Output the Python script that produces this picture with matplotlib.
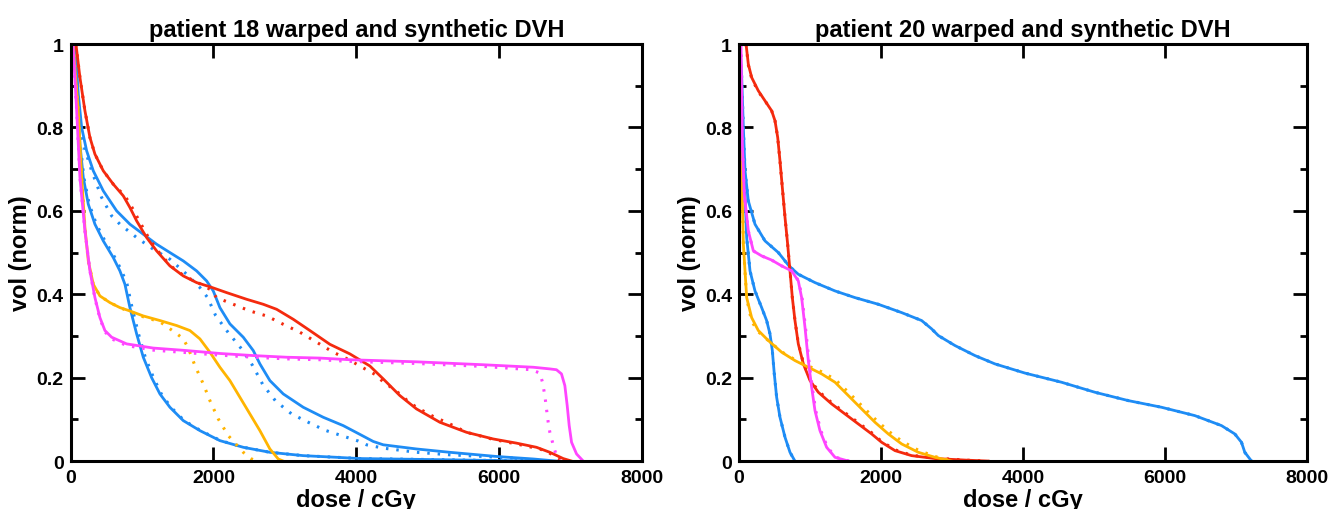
"""
Warped vs synthetic DVH curves for patients 18 and 20.
Solid = warped DVH, dotted = synthetic DVH.
"""

import matplotlib
matplotlib.use("Agg")
import matplotlib.pyplot as plt
from matplotlib.ticker import FixedLocator

plt.rcParams["font.family"] = ["Liberation Sans", "DejaVu Sans"]
plt.rcParams["font.weight"] = "bold"

RED = "#f42a0e"
BLUE = "#1e8cf5"
ORANGE = "#ffb400"
MAGENTA = "#ff45ff"

# ---- patient 18 (dose in cGy, normalised volume) ----
p18_red_x = [74, 130, 200, 270, 340, 457, 597, 737, 830, 924, 1064, 1204, 1390, 1577, 1764, 1950, 2184, 2464, 2697, 2884, 3117, 3350, 3630, 3910, 4190, 4377, 4610, 4843, 5170, 5543, 5917, 6243, 6523, 6710, 6897, 7014]
p18_red_y = [1.0, 0.92, 0.84, 0.776, 0.736, 0.696, 0.664, 0.636, 0.608, 0.576, 0.536, 0.504, 0.468, 0.444, 0.428, 0.418, 0.404, 0.388, 0.376, 0.364, 0.34, 0.313, 0.28, 0.257, 0.228, 0.197, 0.157, 0.125, 0.093, 0.069, 0.053, 0.043, 0.033, 0.021, 0.006, 0.0]
p18_red_syn_x = [74, 130, 200, 270, 340, 457, 597, 760, 860, 960, 1090, 1220, 1400, 1590, 1780, 1950, 2044, 2277, 2510, 2744, 2977, 3210, 3444, 3677, 3910, 4027, 4260, 4377, 4493, 4610, 4727, 4843, 5077, 5310, 5543, 5917, 6243, 6570, 6687, 6803, 6897]
p18_red_syn_y = [1.0, 0.92, 0.84, 0.776, 0.736, 0.696, 0.664, 0.636, 0.608, 0.576, 0.536, 0.504, 0.468, 0.444, 0.428, 0.412, 0.392, 0.376, 0.36, 0.348, 0.328, 0.309, 0.285, 0.261, 0.242, 0.23, 0.208, 0.19, 0.176, 0.161, 0.143, 0.129, 0.107, 0.089, 0.069, 0.052, 0.041, 0.029, 0.021, 0.009, 0.0]

p18_blue1_x = [60, 107, 154, 224, 317, 457, 644, 830, 1017, 1204, 1390, 1577, 1764, 1904, 1997, 2090, 2230, 2417, 2557, 2650, 2790, 2977, 3257, 3537, 3817, 4050, 4237, 4377, 4843, 5310, 5963, 6477, 6803]
p18_blue1_y = [1.0, 0.88, 0.8, 0.744, 0.696, 0.648, 0.6, 0.568, 0.544, 0.52, 0.5, 0.48, 0.456, 0.432, 0.408, 0.368, 0.329, 0.297, 0.265, 0.233, 0.193, 0.161, 0.129, 0.105, 0.085, 0.064, 0.047, 0.039, 0.029, 0.021, 0.011, 0.005, 0.0]
p18_blue1_syn_x = [60, 107, 177, 294, 434, 574, 690, 807, 924, 1157, 1390, 1624, 1810, 1918, 2030, 2207, 2403, 2548, 2692, 2870, 3094, 3327, 3560, 3794, 4027, 4143, 4377, 4843, 5310, 5777, 6243, 6617]
p18_blue1_syn_y = [1.0, 0.84, 0.76, 0.696, 0.632, 0.588, 0.568, 0.552, 0.536, 0.508, 0.484, 0.448, 0.416, 0.392, 0.349, 0.308, 0.267, 0.229, 0.183, 0.144, 0.113, 0.093, 0.074, 0.061, 0.048, 0.039, 0.031, 0.021, 0.015, 0.011, 0.007, 0.0]

p18_blue2_x = [60, 93, 130, 177, 247, 340, 457, 597, 690, 760, 830, 924, 1017, 1134, 1250, 1390, 1577, 1810, 2090, 2417, 2790, 3257, 3724, 4050, 5310, 6477]
p18_blue2_y = [1.0, 0.88, 0.76, 0.68, 0.616, 0.568, 0.528, 0.488, 0.456, 0.424, 0.368, 0.305, 0.249, 0.2, 0.161, 0.129, 0.097, 0.073, 0.049, 0.033, 0.021, 0.013, 0.009, 0.006, 0.003, 0.0]
p18_blue2_syn_x = [60, 95, 135, 185, 260, 360, 480, 620, 715, 790, 860, 950, 1045, 1160, 1270, 1405, 1590, 1820, 2100, 2420, 2790, 3257, 3724, 4050, 5310, 6477]
p18_blue2_syn_y = [1.0, 0.88, 0.76, 0.68, 0.616, 0.568, 0.528, 0.488, 0.456, 0.424, 0.368, 0.305, 0.249, 0.2, 0.161, 0.129, 0.097, 0.073, 0.049, 0.033, 0.021, 0.013, 0.009, 0.006, 0.003, 0.0]

p18_orange_x = [33, 107, 154, 200, 247, 317, 410, 550, 690, 830, 1017, 1250, 1484, 1670, 1810, 1950, 2090, 2230, 2370, 2510, 2650, 2790, 2907, 2977]
p18_orange_y = [1.0, 0.84, 0.68, 0.56, 0.48, 0.424, 0.396, 0.38, 0.368, 0.36, 0.348, 0.337, 0.325, 0.313, 0.293, 0.261, 0.225, 0.193, 0.153, 0.113, 0.073, 0.029, 0.005, 0.0]
p18_orange_syn_x = [33, 107, 154, 200, 247, 317, 410, 550, 690, 830, 1017, 1250, 1367, 1490, 1577, 1647, 1740, 1857, 1950, 2067, 2207, 2417, 2534, 2604]
p18_orange_syn_y = [1.0, 0.84, 0.68, 0.56, 0.48, 0.424, 0.396, 0.38, 0.368, 0.358, 0.346, 0.334, 0.32, 0.305, 0.293, 0.271, 0.229, 0.185, 0.145, 0.101, 0.061, 0.021, 0.005, 0.0]

p18_mag_x = [33, 84, 130, 200, 270, 340, 410, 480, 574, 784, 1157, 1624, 2090, 2557, 3024, 3490, 3910, 4843, 5777, 6477, 6710, 6803, 6873, 6920, 6953, 6981, 7014, 7084, 7177]
p18_mag_y = [1.0, 0.84, 0.68, 0.552, 0.456, 0.392, 0.344, 0.313, 0.297, 0.281, 0.271, 0.265, 0.258, 0.253, 0.249, 0.247, 0.243, 0.238, 0.231, 0.225, 0.221, 0.219, 0.209, 0.181, 0.133, 0.085, 0.045, 0.017, 0.0]
p18_mag_syn_x = [33, 84, 130, 200, 270, 340, 410, 480, 574, 784, 1157, 1624, 2090, 2557, 3024, 3490, 3910, 4843, 5777, 6453, 6570, 6607, 6640, 6663, 6687, 6710, 6766, 6803, 6850]
p18_mag_syn_y = [1.0, 0.84, 0.68, 0.552, 0.456, 0.39, 0.342, 0.31, 0.293, 0.277, 0.266, 0.26, 0.254, 0.249, 0.245, 0.243, 0.239, 0.234, 0.227, 0.219, 0.211, 0.189, 0.157, 0.125, 0.093, 0.069, 0.033, 0.013, 0.0]

# ---- patient 20 ----
p20_red_x = [99, 131, 178, 272, 366, 460, 507, 545, 577, 610, 648, 685, 718, 751, 788, 835, 906, 1000, 1117, 1305, 1492, 1680, 1868, 2009, 2197, 2431, 2760, 3229, 3510]
p20_red_y = [1.0, 0.952, 0.92, 0.888, 0.864, 0.84, 0.816, 0.776, 0.72, 0.656, 0.584, 0.52, 0.456, 0.392, 0.337, 0.281, 0.233, 0.193, 0.165, 0.137, 0.113, 0.089, 0.065, 0.045, 0.025, 0.013, 0.006, 0.002, 0.0]
p20_red_syn_y = [1.0, 0.95, 0.918, 0.886, 0.864, 0.84, 0.816, 0.776, 0.72, 0.656, 0.584, 0.52, 0.456, 0.392, 0.337, 0.283, 0.236, 0.196, 0.168, 0.14, 0.116, 0.092, 0.068, 0.047, 0.027, 0.014, 0.007, 0.002, 0.0]

p20_blue1_x = [14, 38, 61, 85, 131, 225, 366, 554, 704, 835, 1070, 1352, 1633, 1962, 2291, 2572, 2713, 2807, 3042, 3323, 3605, 4027, 4543, 5013, 5482, 5951, 6420, 6796, 6983, 7077, 7124, 7218]
p20_blue1_y = [1.0, 0.92, 0.8, 0.696, 0.624, 0.568, 0.528, 0.5, 0.468, 0.448, 0.428, 0.408, 0.392, 0.376, 0.356, 0.337, 0.317, 0.301, 0.277, 0.253, 0.233, 0.211, 0.189, 0.165, 0.145, 0.129, 0.109, 0.085, 0.065, 0.045, 0.021, 0.0]

p20_blue2_x = [14, 38, 75, 108, 155, 225, 319, 389, 436, 469, 497, 530, 577, 648, 718, 788]
p20_blue2_y = [1.0, 0.84, 0.68, 0.536, 0.456, 0.408, 0.368, 0.337, 0.305, 0.265, 0.209, 0.153, 0.105, 0.057, 0.021, 0.0]

p20_mag_x = [28, 47, 75, 131, 202, 319, 460, 601, 742, 835, 882, 929, 976, 1023, 1070, 1140, 1234, 1352, 1540]
p20_mag_y = [1.0, 0.76, 0.64, 0.552, 0.504, 0.492, 0.482, 0.468, 0.456, 0.432, 0.392, 0.321, 0.241, 0.177, 0.121, 0.073, 0.033, 0.009, 0.0]
p20_mag_syn_x = [28, 47, 75, 131, 202, 319, 460, 601, 742, 840, 888, 936, 984, 1032, 1080, 1152, 1246, 1364, 1550]

p20_orange_x = [0, 28, 61, 108, 178, 272, 413, 601, 788, 976, 1164, 1352, 1540, 1727, 1915, 2103, 2291, 2525, 2760, 2995]
p20_orange_y = [1.0, 0.76, 0.52, 0.392, 0.344, 0.313, 0.289, 0.261, 0.241, 0.225, 0.209, 0.189, 0.157, 0.125, 0.093, 0.065, 0.041, 0.021, 0.009, 0.0]
p20_orange_syn_y = [1.0, 0.76, 0.52, 0.39, 0.335, 0.31, 0.289, 0.262, 0.243, 0.228, 0.214, 0.196, 0.165, 0.133, 0.101, 0.072, 0.048, 0.026, 0.011, 0.0]

SOLID_LW = 2.0
DOT = dict(linewidth=2.2, linestyle=(0, (0.8, 2.6)))


def style_axes(ax, title):
    ax.set_xlim(0, 8000)
    ax.set_ylim(0, 1)
    ax.set_xticks([0, 2000, 4000, 6000, 8000])
    ax.set_xticklabels(["0", "2000", "4000", "6000", "8000"])
    ax.set_yticks([0, 0.2, 0.4, 0.6, 0.8, 1.0])
    ax.set_yticklabels(["0", "0.2", "0.4", "0.6", "0.8", "1"])
    ax.yaxis.set_minor_locator(FixedLocator([0.1, 0.3, 0.5, 0.7, 0.9]))
    ax.tick_params(which="both", direction="in", top=True, right=True,
                   width=2, labelsize=14)
    ax.tick_params(which="major", length=10)
    ax.tick_params(which="minor", length=5)
    ax.tick_params(axis="x", pad=6)
    ax.tick_params(axis="y", pad=5)
    for lab in ax.get_xticklabels() + ax.get_yticklabels():
        lab.set_fontweight("bold")
    for sp in ax.spines.values():
        sp.set_linewidth(2.2)
    ax.set_xlabel("dose / cGy", fontsize=17, fontweight="bold", labelpad=1)
    ax.set_ylabel("vol (norm)", fontsize=17, fontweight="bold", labelpad=3)
    ax.set_title(title, fontsize=17, fontweight="bold", pad=6)


fig = plt.figure(figsize=(13.33, 5.1), dpi=100)
ax1 = fig.add_axes([0.0530, 0.094, 0.4286, 0.8176])
ax2 = fig.add_axes([0.5544, 0.094, 0.4261, 0.8176])

# patient 18
ax1.plot(p18_blue1_syn_x, p18_blue1_syn_y, color=BLUE, **DOT)
ax1.plot(p18_blue2_syn_x, p18_blue2_syn_y, color=BLUE, **DOT)
ax1.plot(p18_blue1_x, p18_blue1_y, color=BLUE, lw=SOLID_LW)
ax1.plot(p18_blue2_x, p18_blue2_y, color=BLUE, lw=SOLID_LW)
ax1.plot(p18_red_syn_x, p18_red_syn_y, color=RED, **DOT)
ax1.plot(p18_red_x, p18_red_y, color=RED, lw=SOLID_LW)
ax1.plot(p18_orange_syn_x, p18_orange_syn_y, color=ORANGE, **DOT)
ax1.plot(p18_orange_x, p18_orange_y, color=ORANGE, lw=SOLID_LW)
ax1.plot(p18_mag_syn_x, p18_mag_syn_y, color=MAGENTA, **DOT)
ax1.plot(p18_mag_x, p18_mag_y, color=MAGENTA, lw=SOLID_LW)
style_axes(ax1, "patient 18 warped and synthetic DVH")

# patient 20 (synthetic lies almost on top of warped)
ax2.plot(p20_blue1_x, p20_blue1_y, color=BLUE, **DOT)
ax2.plot(p20_blue2_x, p20_blue2_y, color=BLUE, **DOT)
ax2.plot(p20_blue1_x, p20_blue1_y, color=BLUE, lw=SOLID_LW)
ax2.plot(p20_blue2_x, p20_blue2_y, color=BLUE, lw=SOLID_LW)
ax2.plot(p20_red_x, p20_red_syn_y, color=RED, **DOT)
ax2.plot(p20_red_x, p20_red_y, color=RED, lw=SOLID_LW)
ax2.plot(p20_orange_x, p20_orange_syn_y, color=ORANGE, **DOT)
ax2.plot(p20_orange_x, p20_orange_y, color=ORANGE, lw=SOLID_LW)
ax2.plot(p20_mag_syn_x, p20_mag_y, color=MAGENTA, **DOT)
ax2.plot(p20_mag_x, p20_mag_y, color=MAGENTA, lw=SOLID_LW)
style_axes(ax2, "patient 20 warped and synthetic DVH")

fig.savefig("out.png", dpi=100)
